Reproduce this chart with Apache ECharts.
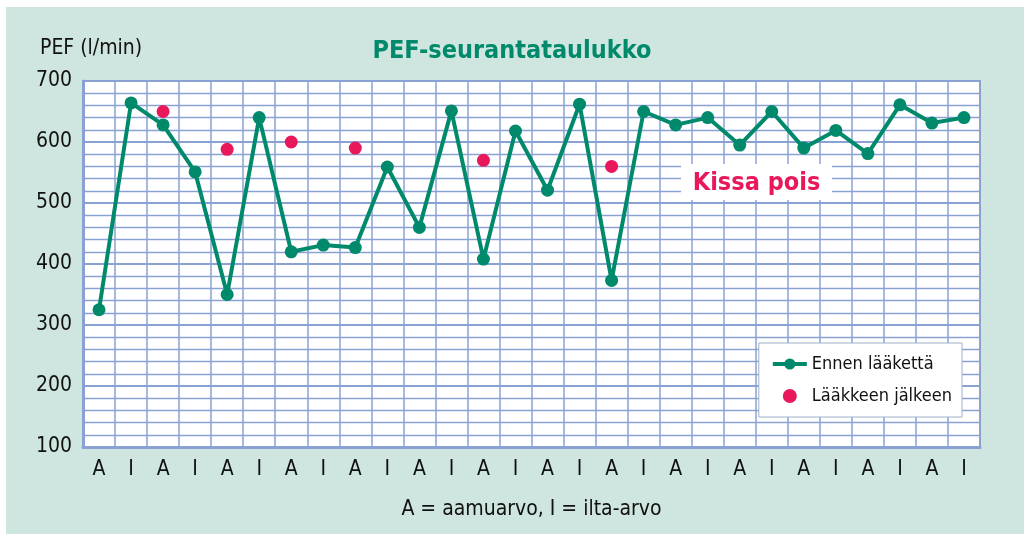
<!DOCTYPE html>
<html>
<head>
<meta charset="utf-8">
<script src="https://cdn.jsdelivr.net/npm/echarts@6/dist/echarts.min.js"></script>
<style>
html,body{margin:0;padding:0;background:#fff;}
#c{width:1024px;height:534px;}
</style>
</head>
<body>
<div id="c"></div>
<script>
var categories = ['A','I','A','I','A','I','A','I','A','I','A','I','A','I','A','I','A','I','A','I','A','I','A','I','A','I','A','I'];
var beforeMed = [325,664,628,551,350,640,420,431,427,559,460,651,408,618,521,662,373,650,628,640,595,650,590,619,581,661,631,640];
var afterMed = [null,null,650,null,588,null,600,null,590,null,null,null,570,null,null,null,560,null,null,null,null,null,null,null,null,null,null,null];
var yTicks = {min:100, max:700, step:100};

var FONT = '"DejaVu Sans Condensed","Liberation Sans Narrow",sans-serif';
var GREEN = '#008a6b';
var RED = '#e8185b';
var GRIDC = '#8aa2d3';

var chart = echarts.init(document.getElementById('c'));
chart.setOption({
  animation:false,
  backgroundColor:'#ffffff',
  graphic:[
    {type:'rect', z:-10, shape:{x:6,y:7,width:1018,height:527}, style:{fill:'#cfe5df'}},
    {type:'text', left:40, top:38, style:{text:'PEF (l/min)', font:'21px '+FONT, fill:'#111'}},
    {type:'rect', z:100, shape:{x:681,y:164,width:151,height:36}, style:{fill:'#fff'}},
    {type:'text', z:101, x:756.5, y:183, style:{text:'Kissa pois', font:'bold 25px '+FONT, fill:RED, align:'center', verticalAlign:'middle'}}
  ],
  title:{text:'PEF-seurantataulukko', left:'center', top:34, textStyle:{fontFamily:FONT, fontWeight:'bold', fontSize:25, color:GREEN}},
  legend:{
    orient:'vertical', right:62, top:343, backgroundColor:'#fff', borderColor:'#9fb0cc', borderWidth:1,
    padding:[12,10,12,12], itemGap:14, itemWidth:34, itemHeight:14,
    textStyle:{fontFamily:FONT, fontSize:18, color:'#111'},
    lineStyle:{width:4},
    data:[{name:'Ennen lääkettä'},{name:'Lääkkeen jälkeen', icon:'circle'}]
  },
  grid:{left:83, top:81, right:44, bottom:87, show:true, backgroundColor:'#fff', borderColor:GRIDC, borderWidth:2},
  xAxis:{
    type:'category', data:categories, boundaryGap:true,
    name:'A = aamuarvo, I = ilta-arvo', nameLocation:'middle', nameGap:52,
    nameTextStyle:{fontFamily:FONT, fontSize:21, color:'#111'},
    axisLine:{lineStyle:{color:GRIDC, width:3}}, axisTick:{show:false},
    axisLabel:{interval:0, fontFamily:FONT, fontSize:21, color:'#111', margin:12},
    splitLine:{show:true, interval:0, lineStyle:{color:GRIDC, width:1.5}}
  },
  yAxis:{
    type:'value', min:yTicks.min, max:yTicks.max, interval:yTicks.step,
    axisLine:{show:true, lineStyle:{color:GRIDC, width:3}}, axisTick:{show:false},
    axisLabel:{fontFamily:FONT, fontSize:21, color:'#111', margin:11},
    splitLine:{lineStyle:{color:GRIDC, width:2}},
    minorTick:{show:false, splitNumber:5},
    minorSplitLine:{show:true, lineStyle:{color:GRIDC, width:1.3}}
  },
  series:[
    {name:'Ennen lääkettä', type:'line', data:beforeMed, symbol:'circle', symbolSize:13,
     lineStyle:{color:GREEN, width:4}, itemStyle:{color:GREEN}, z:5},
    {name:'Lääkkeen jälkeen', type:'scatter', data:afterMed, symbol:'circle', symbolSize:13,
     itemStyle:{color:RED, opacity:1}, z:4}
  ]
});
</script>
</body>
</html>
